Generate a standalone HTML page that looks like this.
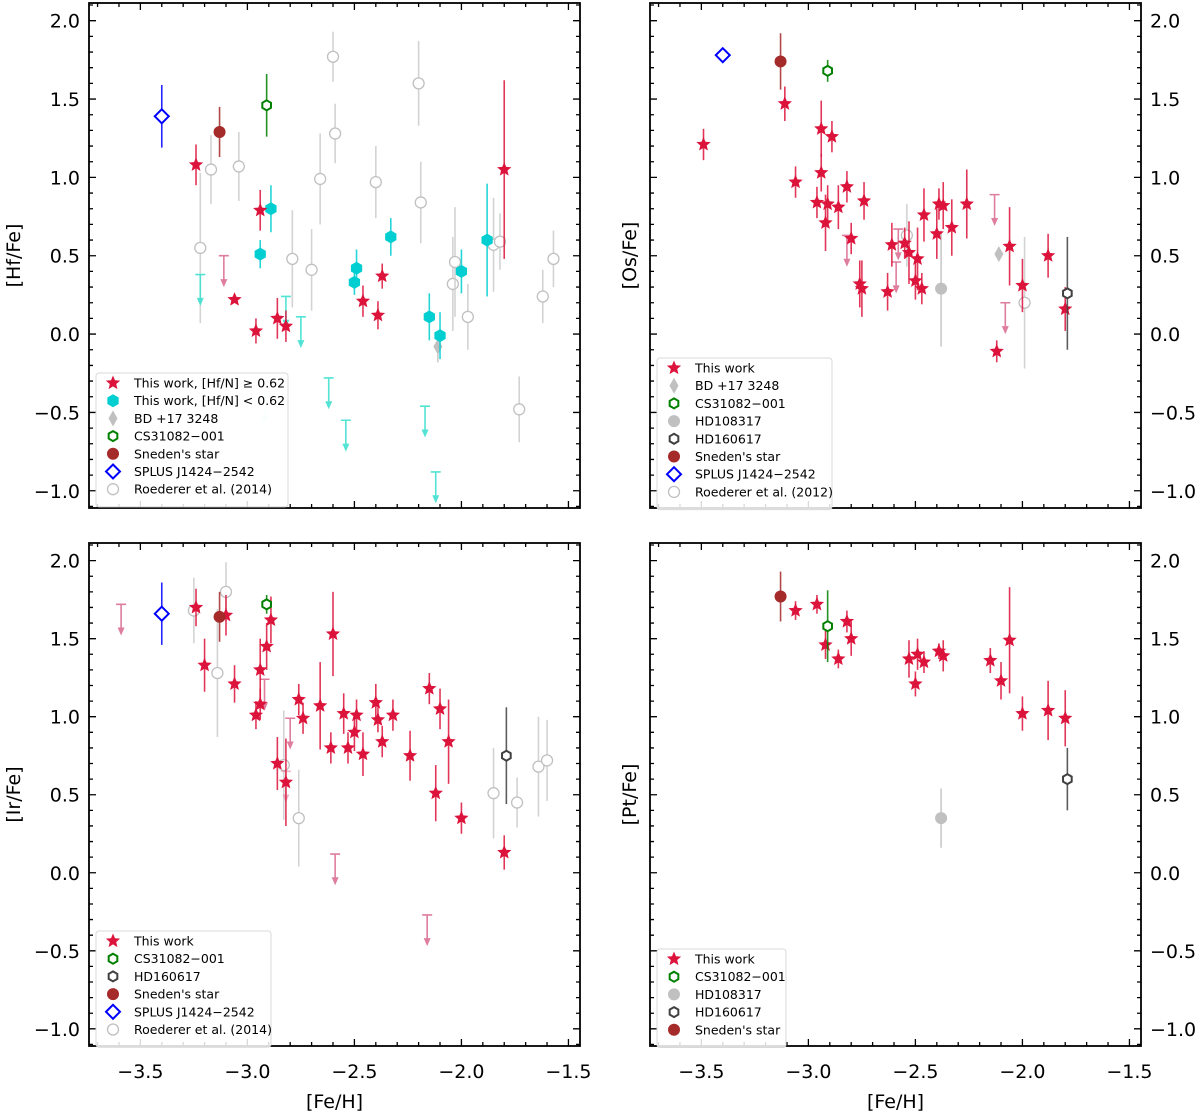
<!DOCTYPE html>
<html><head><meta charset="utf-8"><style>
html,body{margin:0;padding:0;background:#fff;}
svg{display:block;font-family:"DejaVu Sans","Liberation Sans",sans-serif;}
</style></head><body>
<svg id="fig" width="1200" height="1113" viewBox="0 0 1200 1113" xmlns="http://www.w3.org/2000/svg"></svg>
<script>
// ===== Panel A: [Hf/Fe] =====
const hfStarFe=[-3.24,-3.06,-2.94,-2.96,-2.86,-2.82,-2.46,-2.39,-2.37,-1.80];
const hfStarVal=[1.08,0.22,0.79,0.02,0.10,0.05,0.21,0.12,0.37,1.05];
const hfStarErr=[0.13,0,0.13,0.08,0.13,0.10,0.10,0.09,0.08,0.57];
const hfStarLimFe=[-3.11];
const hfStarLimVal=[0.50];
const hfCyanFe=[-2.94,-2.89,-2.50,-2.49,-2.33,-2.15,-2.10,-2.00,-1.88];
const hfCyanVal=[0.51,0.80,0.33,0.42,0.62,0.11,-0.01,0.40,0.60];
const hfCyanErr=[0.09,0.15,0.08,0.12,0.12,0.15,0.15,0.14,0.36];
const hfCyanLimFe=[-3.22,-2.82,-2.75,-2.62,-2.54,-2.17,-2.12,-2.92];
const hfCyanLimVal=[0.38,0.24,0.11,-0.28,-0.55,-0.46,-0.88,-0.37];
const hfBdFe=[-2.11], hfBdVal=[-0.08], hfBdErr=[0.10];
const hfCsFe=[-2.91], hfCsVal=[1.46], hfCsErr=[0.20];
const hfSnFe=[-3.13], hfSnVal=[1.29], hfSnErr=[0.16];
const hfSpFe=[-3.40], hfSpVal=[1.39], hfSpErr=[0.20];
const hfRoFe=[-3.22,-3.17,-3.04,-2.79,-2.70,-2.66,-2.60,-2.59,-2.40,-2.20,-2.19,-2.04,-2.03,-1.97,-1.85,-1.82,-1.73,-1.62,-1.57];
const hfRoVal=[0.55,1.05,1.07,0.48,0.41,0.99,1.77,1.28,0.97,1.60,0.84,0.32,0.46,0.11,0.57,0.59,-0.48,0.24,0.48];
const hfRoErr=[0.48,0.22,0.22,0.31,0.26,0.29,0.16,0.19,0.23,0.27,0.26,0.30,0.35,0.21,0.30,0.18,0.21,0.17,0.18];

// ===== Panel B: [Os/Fe] =====
const osStarFe=[-3.49,-3.11,-3.06,-2.96,-2.94,-2.94,-2.92,-2.91,-2.89,-2.86,-2.82,-2.80,-2.76,-2.75,-2.74,-2.63,-2.61,-2.55,-2.53,-2.50,-2.49,-2.47,-2.46,-2.40,-2.39,-2.37,-2.33,-2.26,-2.12,-2.06,-2.00,-1.88,-1.80];
const osStarVal=[1.21,1.47,0.97,0.84,1.31,1.03,0.71,0.83,1.26,0.81,0.94,0.61,0.32,0.29,0.85,0.27,0.57,0.58,0.52,0.34,0.48,0.29,0.76,0.64,0.83,0.82,0.68,0.83,-0.11,0.56,0.31,0.50,0.16];
const osStarErr=[0.10,0.11,0.10,0.10,0.18,0.12,0.18,0.12,0.10,0.14,0.10,0.10,0.15,0.18,0.12,0.12,0.14,0.10,0.20,0.12,0.20,0.10,0.17,0.16,0.10,0.15,0.18,0.22,0.07,0.25,0.17,0.14,0.14];
const osLimFe=[-2.82,-2.59,-2.58,-2.13,-2.08];
const osLimVal=[0.63,0.46,0.67,0.89,0.20];
const osBdFe=[-2.11], osBdVal=[0.51], osBdErr=[0];
const osCsFe=[-2.91], osCsVal=[1.68], osCsErr=[0.07];
const osH108Fe=[-2.38], osH108Val=[0.29], osH108Err=[0.37];
const osH160Fe=[-1.79], osH160Val=[0.26], osH160Err=[0.36];
const osSnFe=[-3.13], osSnVal=[1.74], osSnErr=[0.18];
const osSpFe=[-3.40], osSpVal=[1.78], osSpErr=[0];
const osRoFe=[-2.54,-1.99], osRoVal=[0.63,0.20], osRoErr=[0.20,0.42];

// ===== Panel C: [Ir/Fe] =====
const irStarFe=[-3.24,-3.20,-3.10,-3.06,-2.96,-2.94,-2.94,-2.91,-2.89,-2.86,-2.82,-2.76,-2.74,-2.66,-2.61,-2.60,-2.55,-2.53,-2.50,-2.49,-2.46,-2.40,-2.39,-2.37,-2.32,-2.24,-2.15,-2.12,-2.10,-2.06,-2.00,-1.80];
const irStarVal=[1.70,1.33,1.65,1.21,1.01,1.08,1.30,1.45,1.62,0.70,0.58,1.11,0.99,1.07,0.80,1.53,1.02,0.80,0.90,1.01,0.76,1.09,0.98,0.84,1.01,0.75,1.18,0.51,1.05,0.84,0.35,0.13];
const irStarErr=[0.12,0.17,0.13,0.12,0.09,0.10,0.20,0.15,0.15,0.17,0.28,0.10,0.10,0.28,0.10,0.27,0.13,0.10,0.12,0.10,0.14,0.12,0.08,0.10,0.10,0.16,0.10,0.18,0.13,0.27,0.10,0.11];
const irLimFe=[-3.59,-2.92,-2.80,-2.82,-2.59,-2.16];
const irLimVal=[1.72,1.24,0.99,0.65,0.12,-0.27];
const irCsFe=[-2.91], irCsVal=[1.72], irCsErr=[0.06];
const irH160Fe=[-1.79], irH160Val=[0.75], irH160Err=[0.31];
const irSnFe=[-3.13], irSnVal=[1.64], irSnErr=[0.16];
const irSpFe=[-3.40], irSpVal=[1.66], irSpErr=[0.20];
const irRoFe=[-3.25,-3.10,-3.14,-2.83,-2.76,-1.85,-1.74,-1.64,-1.60];
const irRoVal=[1.68,1.80,1.28,0.69,0.35,0.51,0.45,0.68,0.72];
const irRoErr=[0.21,0.19,0.41,0.35,0.31,0.29,0.16,0.32,0.26];

// ===== Panel D: [Pt/Fe] =====
const ptStarFe=[-3.06,-2.96,-2.92,-2.86,-2.82,-2.80,-2.53,-2.49,-2.50,-2.46,-2.39,-2.37,-2.15,-2.10,-2.06,-2.00,-1.88,-1.80];
const ptStarVal=[1.68,1.72,1.46,1.37,1.61,1.50,1.37,1.40,1.21,1.35,1.42,1.39,1.36,1.23,1.49,1.02,1.04,0.99];
const ptStarErr=[0.06,0.06,0.09,0.06,0.07,0.11,0.12,0.10,0.08,0.07,0.05,0.10,0.08,0.12,0.34,0.11,0.19,0.18];
const ptCsFe=[-2.91], ptCsVal=[1.58], ptCsErr=[0.23];
const ptH108Fe=[-2.38], ptH108Val=[0.35], ptH108Err=[0.19];
const ptH160Fe=[-1.79], ptH160Val=[0.60], ptH160Err=[0.20];
const ptSnFe=[-3.13], ptSnVal=[1.77], ptSnErr=[0.16];

const xTicks=[-3.5,-3.0,-2.5,-2.0,-1.5];
const xTickLabels=["−3.5","−3.0","−2.5","−2.0","−1.5"];
const yTicks=[2.0,1.5,1.0,0.5,0.0,-0.5,-1.0];
const yTickLabels=["2.0","1.5","1.0","0.5","0.0","−0.5","−1.0"];

const NS="http://www.w3.org/2000/svg";
const fig=document.getElementById('fig');
const XMIN=-3.74, XMAX=-1.446, YMIN=-1.11, YMAX=2.113, PW=491;
function mk(tag,parent){const e=document.createElementNS(NS,tag);parent.appendChild(e);return e;}

function makePanel(name,x0,y0,y1){
  const g=mk('g',fig);
  
  
  const sx=v=>x0+(v-XMIN)/(XMAX-XMIN)*PW;
  const sy=v=>y0+(YMAX-v)/(YMAX-YMIN)*(y1-y0);
  return {g,sx,sy,x0,y0,y1};
}

function errbar(P,fe,v,e,color,op){
  if(!e) return;
  const l=mk('line',P.g);
  
  
  l.setAttribute('x1',P.sx(fe));l.setAttribute('x2',P.sx(fe));
  l.setAttribute('y1',P.sy(v+e));l.setAttribute('y2',P.sy(v-e));
  l.setAttribute('stroke',color);l.setAttribute('stroke-width',1.6);
  l.setAttribute('opacity',op||0.85);
}
function starPath(cx,cy,r){
  let d='';
  for(let i=0;i<10;i++){const rr=i%2?r*0.45:r;const a=-Math.PI/2+i*Math.PI/5;
    d+=(i?'L':'M')+(cx+rr*Math.cos(a)).toFixed(2)+','+(cy+rr*Math.sin(a)).toFixed(2);}
  return d+'Z';
}
function hexPath(cx,cy,r){
  let d='';
  for(let i=0;i<6;i++){const a=-Math.PI/2+i*Math.PI/3;
    d+=(i?'L':'M')+(cx+r*Math.cos(a)).toFixed(2)+','+(cy+r*Math.sin(a)).toFixed(2);}
  return d+'Z';
}
function marker(parent,kind,cx,cy,color,nm){
  let e;
  if(kind==='star'){e=mk('path',parent);e.setAttribute('d',starPath(cx,cy,7.5));e.setAttribute('fill',color);}
  else if(kind==='hexf'){e=mk('path',parent);e.setAttribute('d',hexPath(cx,cy,6.5));e.setAttribute('fill',color);}
  else if(kind==='hexo'){e=mk('path',parent);e.setAttribute('d',hexPath(cx,cy,5));e.setAttribute('fill','#fff');e.setAttribute('stroke',color);e.setAttribute('stroke-width',2);}
  else if(kind==='circf'){e=mk('circle',parent);e.setAttribute('cx',cx);e.setAttribute('cy',cy);e.setAttribute('r',6);e.setAttribute('fill',color);}
  else if(kind==='circo'){e=mk('circle',parent);e.setAttribute('cx',cx);e.setAttribute('cy',cy);e.setAttribute('r',5.5);e.setAttribute('fill','#fff');e.setAttribute('stroke',color);e.setAttribute('stroke-width',1.3);}
  else if(kind==='diamo'){e=mk('path',parent);e.setAttribute('d',`M${cx},${cy-7}L${cx+7},${cy}L${cx},${cy+7}L${cx-7},${cy}Z`);e.setAttribute('fill','#fff');e.setAttribute('stroke',color);e.setAttribute('stroke-width',2);}
  else if(kind==='thind'){e=mk('path',parent);e.setAttribute('d',`M${cx},${cy-8}L${cx+4.5},${cy}L${cx},${cy+8}L${cx-4.5},${cy}Z`);e.setAttribute('fill',color);}
  
  
  return e;
}
function series(P,fe,val,err,kind,color,ecolor,nm){
  for(let i=0;i<fe.length;i++){
    errbar(P,fe[i],val[i],err[i],ecolor||color);
    marker(P.g,kind,P.sx(fe[i]),P.sy(val[i]),color,nm);
  }
}
function limits(P,fe,val,color,nm,op){
  for(let i=0;i<fe.length;i++){
    const x=P.sx(fe[i]),y=P.sy(val[i]),yb=P.sy(val[i]-0.2);
    const g=mk('g',P.g);
    
    
    g.setAttribute('opacity',(op&&op[i])||0.9);
    const c=mk('path',g);
    c.setAttribute('d',`M${x-5},${y}H${x+5}M${x},${y}V${yb-7}`);
    c.setAttribute('stroke',color);c.setAttribute('stroke-width',1.6);c.setAttribute('fill','none');
    const a=mk('path',g);
    a.setAttribute('d',`M${x-3.5},${yb-8}L${x+3.5},${yb-8}L${x},${yb}Z`);
    a.setAttribute('fill',color);
  }
}
function axes(P,side,ylabel,showX){
  const f=mk('rect',P.g);
  
  
  f.setAttribute('x',P.x0);f.setAttribute('y',P.y0);f.setAttribute('width',PW);f.setAttribute('height',P.y1-P.y0);
  f.setAttribute('fill','none');f.setAttribute('stroke','#000');f.setAttribute('stroke-width',1.8);
  let d='';
  for(let k=-37;k<=-15;k++){const v=k/10;const x=P.sx(v);if(x<P.x0+1||x>P.x0+PW-1)continue;
    const L=(k%5===0)?7:4; d+=`M${x},${P.y1}v${-L}M${x},${P.y0}v${L}`;}
  for(let k=-11;k<=21;k++){const v=k/10;const y=P.sy(v);if(y<P.y0+1||y>P.y1-1)continue;
    const L=(k%5===0)?7:4; d+=`M${P.x0},${y}h${L}M${P.x0+PW},${y}h${-L}`;}
  const t=mk('path',P.g);
  
  
  t.setAttribute('d',d);t.setAttribute('stroke','#000');t.setAttribute('stroke-width',1.3);
  for(let i=0;i<yTicks.length;i++){
    const tx=mk('text',P.g);
    
    
    tx.setAttribute('y',P.sy(yTicks[i])+7);
    tx.setAttribute('font-size',19);
    if(side==='left'){tx.setAttribute('x',P.x0-9);tx.setAttribute('text-anchor','end');}
    else{tx.setAttribute('x',P.x0+PW+9);}
    tx.textContent=yTickLabels[i];
  }
  const yl=mk('text',P.g);
  
  
  const lx=side==='left'?20:636, ly=(P.y0+P.y1)/2;
  yl.setAttribute('x',lx);yl.setAttribute('y',ly);yl.setAttribute('font-size',19);yl.setAttribute('text-anchor','middle');
  yl.setAttribute('transform',`rotate(-90 ${lx} ${ly})`);
  yl.textContent=ylabel;
  if(showX){
    for(let i=0;i<xTicks.length;i++){
      const tx=mk('text',P.g);
      
      
      tx.setAttribute('x',P.sx(xTicks[i]));tx.setAttribute('y',P.y1+32);
      tx.setAttribute('font-size',19);tx.setAttribute('text-anchor','middle');
      tx.textContent=xTickLabels[i];
    }
    const xl=mk('text',P.g);
    
    
    xl.setAttribute('x',P.x0+PW/2);xl.setAttribute('y',P.y1+62);xl.setAttribute('font-size',19);xl.setAttribute('text-anchor','middle');
    xl.textContent='[Fe/H]';
  }
}
function legend(P,x,y,w,entries){
  const g=mk('g',P.g);
  
  
  const h=entries.length*17.7+10;
  const r=mk('rect',g);
  r.setAttribute('x',x);r.setAttribute('y',y);r.setAttribute('width',w);r.setAttribute('height',h);r.setAttribute('rx',3);
  r.setAttribute('fill','#fff');r.setAttribute('fill-opacity',0.85);r.setAttribute('stroke','#d8d8d8');
  entries.forEach((en,i)=>{
    const cy=y+10+i*17.7;
    const eg=mk('g',g);
    
    
    marker(eg,en[0],x+17,cy,en[1],'legend-marker');
    const t=mk('text',eg);
    t.setAttribute('x',x+38);t.setAttribute('y',cy+4.5);t.setAttribute('font-size',12.5);t.setAttribute('fill','#000');
    t.textContent=en[2];
  });
}
const RED='#dc143c',PINK='#db7093',CYAN='#00ced1',TURQ='#40e0d0',GREY='#c0c0c0',GREEN='#008000',BROWN='#a52a2a',BLUE='#0000ff',DARK='#404040';

// Panel A
let P=makePanel('panel-hf-fe',89,3,508);
axes(P,'left','[Hf/Fe]',false);
series(P,hfRoFe,hfRoVal,hfRoErr,'circo',GREY,'#cccccc','roederer-2014-point');
limits(P,hfCyanLimFe,hfCyanLimVal,TURQ,'cyan-upper-limit',[0.9,0.9,0.9,0.9,0.9,0.9,0.9,0.2]);
limits(P,hfStarLimFe,hfStarLimVal,PINK,'red-upper-limit');
series(P,hfBdFe,hfBdVal,hfBdErr,'thind',GREY,GREY,'bd17-3248-point');
series(P,hfCyanFe,hfCyanVal,hfCyanErr,'hexf',CYAN,CYAN,'this-work-low-point');
series(P,hfStarFe,hfStarVal,hfStarErr,'star',RED,RED,'this-work-high-point');
series(P,hfCsFe,hfCsVal,hfCsErr,'hexo',GREEN,GREEN,'cs31082-point');
series(P,hfSnFe,hfSnVal,hfSnErr,'circf',BROWN,BROWN,'snedens-star-point');
series(P,hfSpFe,hfSpVal,hfSpErr,'diamo',BLUE,BLUE,'splus-j1424-point');
legend(P,96,373,192,[['star',RED,'This work, [Hf/N] ≥  0.62'],['hexf',CYAN,'This work, [Hf/N] <  0.62'],['thind',GREY,'BD +17 3248'],['hexo',GREEN,'CS31082−001'],['circf',BROWN,"Sneden's star"],['diamo',BLUE,'SPLUS J1424−2542'],['circo',GREY,'Roederer et al. (2014)']]);

// Panel B
P=makePanel('panel-os-fe',650,3,508);
axes(P,'right','[Os/Fe]',false);
series(P,osRoFe,osRoVal,osRoErr,'circo',GREY,'#cccccc','roederer-2012-point');
series(P,osH108Fe,osH108Val,osH108Err,'circf',GREY,GREY,'hd108317-point');
limits(P,osLimFe,osLimVal,PINK,'red-upper-limit');
series(P,osBdFe,osBdVal,osBdErr,'thind',GREY,GREY,'bd17-3248-point');
series(P,osStarFe,osStarVal,osStarErr,'star',RED,RED,'this-work-point');
series(P,osH160Fe,osH160Val,osH160Err,'hexo',DARK,DARK,'hd160617-point');
series(P,osCsFe,osCsVal,osCsErr,'hexo',GREEN,GREEN,'cs31082-point');
series(P,osSnFe,osSnVal,osSnErr,'circf',BROWN,BROWN,'snedens-star-point');
series(P,osSpFe,osSpVal,osSpErr,'diamo',BLUE,BLUE,'splus-j1424-point');
legend(P,657,358,175,[['star',RED,'This work'],['thind',GREY,'BD +17 3248'],['hexo',GREEN,'CS31082−001'],['circf',GREY,'HD108317'],['hexo',DARK,'HD160617'],['circf',BROWN,"Sneden's star"],['diamo',BLUE,'SPLUS J1424−2542'],['circo',GREY,'Roederer et al. (2012)']]);

// Panel C
P=makePanel('panel-ir-fe',89,543,1046);
axes(P,'left','[Ir/Fe]',true);
series(P,irRoFe,irRoVal,irRoErr,'circo',GREY,'#cccccc','roederer-2014-point');
limits(P,irLimFe,irLimVal,PINK,'red-upper-limit',[0.9,0.9,0.9,0.5,0.9,0.9]);
series(P,irStarFe,irStarVal,irStarErr,'star',RED,RED,'this-work-point');
series(P,irH160Fe,irH160Val,irH160Err,'hexo',DARK,DARK,'hd160617-point');
series(P,irCsFe,irCsVal,irCsErr,'hexo',GREEN,GREEN,'cs31082-point');
series(P,irSnFe,irSnVal,irSnErr,'circf',BROWN,BROWN,'snedens-star-point');
series(P,irSpFe,irSpVal,irSpErr,'diamo',BLUE,BLUE,'splus-j1424-point');
legend(P,96,931,175,[['star',RED,'This work'],['hexo',GREEN,'CS31082−001'],['hexo',DARK,'HD160617'],['circf',BROWN,"Sneden's star"],['diamo',BLUE,'SPLUS J1424−2542'],['circo',GREY,'Roederer et al. (2014)']]);

// Panel D
P=makePanel('panel-pt-fe',650,543,1046);
axes(P,'right','[Pt/Fe]',true);
series(P,ptH108Fe,ptH108Val,ptH108Err,'circf',GREY,GREY,'hd108317-point');
series(P,ptStarFe,ptStarVal,ptStarErr,'star',RED,RED,'this-work-point');
series(P,ptCsFe,ptCsVal,ptCsErr,'hexo',GREEN,GREEN,'cs31082-point');
series(P,ptH160Fe,ptH160Val,ptH160Err,'hexo',DARK,DARK,'hd160617-point');
series(P,ptSnFe,ptSnVal,ptSnErr,'circf',BROWN,BROWN,'snedens-star-point');
legend(P,657,949,129,[['star',RED,'This work'],['hexo',GREEN,'CS31082−001'],['circf',GREY,'HD108317'],['hexo',DARK,'HD160617'],['circf',BROWN,"Sneden's star"]]);
</script>
</body></html>
